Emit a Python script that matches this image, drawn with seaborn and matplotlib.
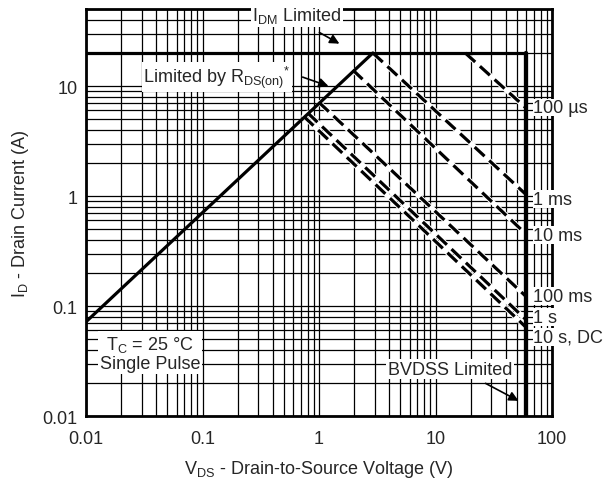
import numpy as np
import pandas as pd
import matplotlib
matplotlib.use("Agg")
import matplotlib.pyplot as plt
import matplotlib.ticker as mticker
import seaborn as sns

# --- Datos ---
# Línea limitada por RDS(on)
vds_rds = [0.01, 2.9]
id_rds = [0.072, 20]
# Línea IDM (horizontal) y BVDSS (vertical)
vds_idm = [0.01, 60]
id_idm = [20, 20]
vds_bv = [60, 60]
id_bv = [0.01, 20]

# Curvas de pulso: punto inicial y final
pulse_labels = ["100 µs", "1 ms", "10 ms", "100 ms", "1 s", "10 s, DC"]
pulse_v_start = [18, 2.9, 1.95, 1.0, 0.8, 0.74]
pulse_i_start = [20, 20, 14, 7.1, 5.7, 5.3]
pulse_v_end = [60, 60, 60, 60, 60, 60]
pulse_i_end = [6.3, 1.03, 0.45, 0.122, 0.075, 0.064]
# posición vertical de las etiquetas de la derecha
label_y = [6.4, 0.94, 0.44, 0.123, 0.079, 0.052]

sns.set_style("white")
plt.rcParams['font.family'] = ['Liberation Sans', 'DejaVu Sans']
plt.rcParams['mathtext.default'] = 'regular'
fs = 13

fig = plt.figure(figsize=(6.07, 4.85), dpi=100)
ax = fig.add_axes([0.1417, 0.140, 0.7677, 0.839])
ax.set_xscale('log')
ax.set_yscale('log')

lw = 2.3

# líneas sólidas
sns.lineplot(x=vds_rds, y=id_rds, ax=ax, color='black', lw=lw, zorder=4,
             estimator=None, sort=False)
sns.lineplot(x=vds_idm, y=id_idm, ax=ax, color='black', lw=lw, zorder=4,
             estimator=None, sort=False)
sns.lineplot(x=vds_bv, y=id_bv, ax=ax, color='black', lw=lw + 0.8, zorder=4,
             estimator=None, sort=False)

# curvas de pulso (discontinuas)
for i in range(len(pulse_labels)):
    df = pd.DataFrame({'V': [pulse_v_start[i], pulse_v_end[i]],
                       'I': [pulse_i_start[i], pulse_i_end[i]]})
    ax.plot(df['V'], df['I'], color='white', lw=lw + 1.4, zorder=3)
    sns.lineplot(data=df, x='V', y='I', ax=ax, color='black', lw=lw,
                 estimator=None, zorder=3.5)
    ax.lines[-1].set_dashes((4.2, 2.0))
    ax.text(69, label_y[i], pulse_labels[i], ha='left', va='center',
            fontsize=fs, zorder=6,
            bbox=dict(facecolor='white', edgecolor='none', pad=0.3))

ax.set_xlim(0.01, 100)
ax.set_ylim(0.01, 50)

# rejilla
ax.xaxis.set_minor_locator(mticker.LogLocator(base=10, subs=np.arange(2, 10)))
ax.yaxis.set_minor_locator(mticker.LogLocator(base=10, subs=np.arange(2, 10)))
ax.xaxis.set_minor_formatter(mticker.NullFormatter())
ax.yaxis.set_minor_formatter(mticker.NullFormatter())
fmt = mticker.FuncFormatter(lambda v, p: f"{v:g}")
ax.xaxis.set_major_formatter(fmt)
ax.yaxis.set_major_formatter(fmt)
ax.set_xticks([0.01, 0.1, 1, 10, 100])
ax.set_yticks([0.01, 0.1, 1, 10])
ax.grid(which='both', color='black', lw=0.9)
ax.tick_params(which='both', length=0, labelsize=fs)
ax.tick_params(axis='x', pad=10)
ax.tick_params(axis='y', pad=6)
for s in ax.spines.values():
    s.set_linewidth(2.0)
    s.set_color('black')
    s.set_zorder(5)

ax.set_xlabel(r"V$_{DS}$ - Drain-to-Source Voltage (V)", fontsize=fs, labelpad=8)
ax.set_ylabel(r"I$_{D}$ - Drain Current (A)", fontsize=fs, labelpad=8)

box = dict(facecolor='white', edgecolor='none', pad=1.0)
arrow = dict(arrowstyle='-|>', color='black', lw=1.2, mutation_scale=14)

ax.text(0.647, 44, r"I$_{DM}$ Limited", ha='center', va='center', fontsize=fs,
        bbox=box, zorder=6, clip_on=False)
ax.annotate("", xy=(1.57, 23.6), xytext=(0.96, 31.6), arrowprops=arrow, zorder=6)

ax.text(0.133, 12.1, r"Limited by R$_{DS(on)}$$^{*}$", ha='center', va='center',
        fontsize=fs, bbox=box, zorder=6)
ax.annotate("", xy=(1.27, 9.8), xytext=(0.687, 12.3), arrowprops=arrow, zorder=6)

ax.text(0.0354, 0.0374, "T$_{C}$ = 25 °C\nSingle Pulse", ha='center', va='center',
        fontsize=fs, bbox=box, zorder=6, linespacing=1.1)

ax.text(13.3, 0.0267, "BVDSS Limited", ha='center', va='center', fontsize=fs,
        bbox=box, zorder=6)
ax.annotate("", xy=(54.2, 0.0134), xytext=(25.6, 0.0204), arrowprops=arrow, zorder=6)

fig.savefig("out.png", dpi=100)
